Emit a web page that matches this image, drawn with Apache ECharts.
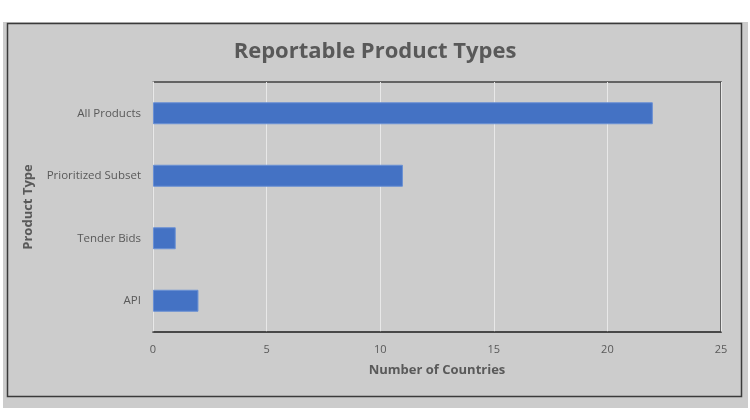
<!DOCTYPE html>
<html>
<head>
<meta charset="utf-8">
<script src="https://cdn.jsdelivr.net/npm/echarts@6/dist/echarts.min.js"></script>
<style>html,body{margin:0;padding:0;background:#fff;}#c{width:750px;height:420px;}</style>
</head>
<body>
<div id="c"></div>
<script>
const categories = ['API', 'Tender Bids', 'Prioritized Subset', 'All Products'];
const values = [2, 1, 11, 22];
const xTicks = [0, 5, 10, 15, 20, 25];

const chart = echarts.init(document.getElementById('c'), null, {renderer: 'canvas'});
const font = 'Open Sans';
chart.setOption({
  backgroundColor: '#ffffff',
  animation: false,
  graphic: [
    {type: 'rect', z: -10, shape: {x: 3, y: 22, width: 745, height: 386}, style: {fill: '#cccccc'}},
    {type: 'rect', z: -9, shape: {x: 7.5, y: 23.5, width: 734, height: 373}, style: {fill: 'none', stroke: '#3a3a3a', lineWidth: 1.5}}
  ],
  title: {
    text: 'Reportable Product Types',
    left: 'center',
    top: 36,
    textStyle: {fontFamily: font, fontSize: 22, fontWeight: 'bold', color: '#595959'}
  },
  grid: {
    left: 153, right: 29, top: 82, bottom: 88,
    show: true, borderColor: '#404040', borderWidth: 1.5, backgroundColor: 'transparent',
    containLabel: false
  },
  xAxis: {
    type: 'value',
    min: xTicks[0], max: xTicks[xTicks.length - 1], interval: 5,
    name: 'Number of Countries',
    nameLocation: 'middle',
    nameGap: 32,
    nameTextStyle: {fontFamily: font, fontSize: 13, fontWeight: 'bold', color: '#595959'},
    axisLine: {show: true, lineStyle: {color: '#404040', width: 1.5}},
    axisTick: {show: false},
    axisLabel: {fontFamily: font, fontSize: 11, color: '#595959', margin: 12},
    splitLine: {show: true, lineStyle: {color: '#e8e8e8', width: 1}}
  },
  yAxis: {
    type: 'category',
    data: categories,
    name: 'Product Type',
    nameLocation: 'middle',
    nameGap: 118,
    nameRotate: 90,
    nameTextStyle: {fontFamily: font, fontSize: 13, fontWeight: 'bold', color: '#595959'},
    axisLine: {show: true, lineStyle: {color: '#e8e8e8', width: 1.5}},
    axisTick: {show: false},
    axisLabel: {fontFamily: font, fontSize: 11.5, color: '#595959', margin: 12},
    splitLine: {show: false}
  },
  series: [{
    type: 'bar',
    data: values,
    barWidth: 22,
    itemStyle: {color: '#4472c4', borderColor: '#6a90d4', borderWidth: 1}
  }]
});
</script>
</body>
</html>
